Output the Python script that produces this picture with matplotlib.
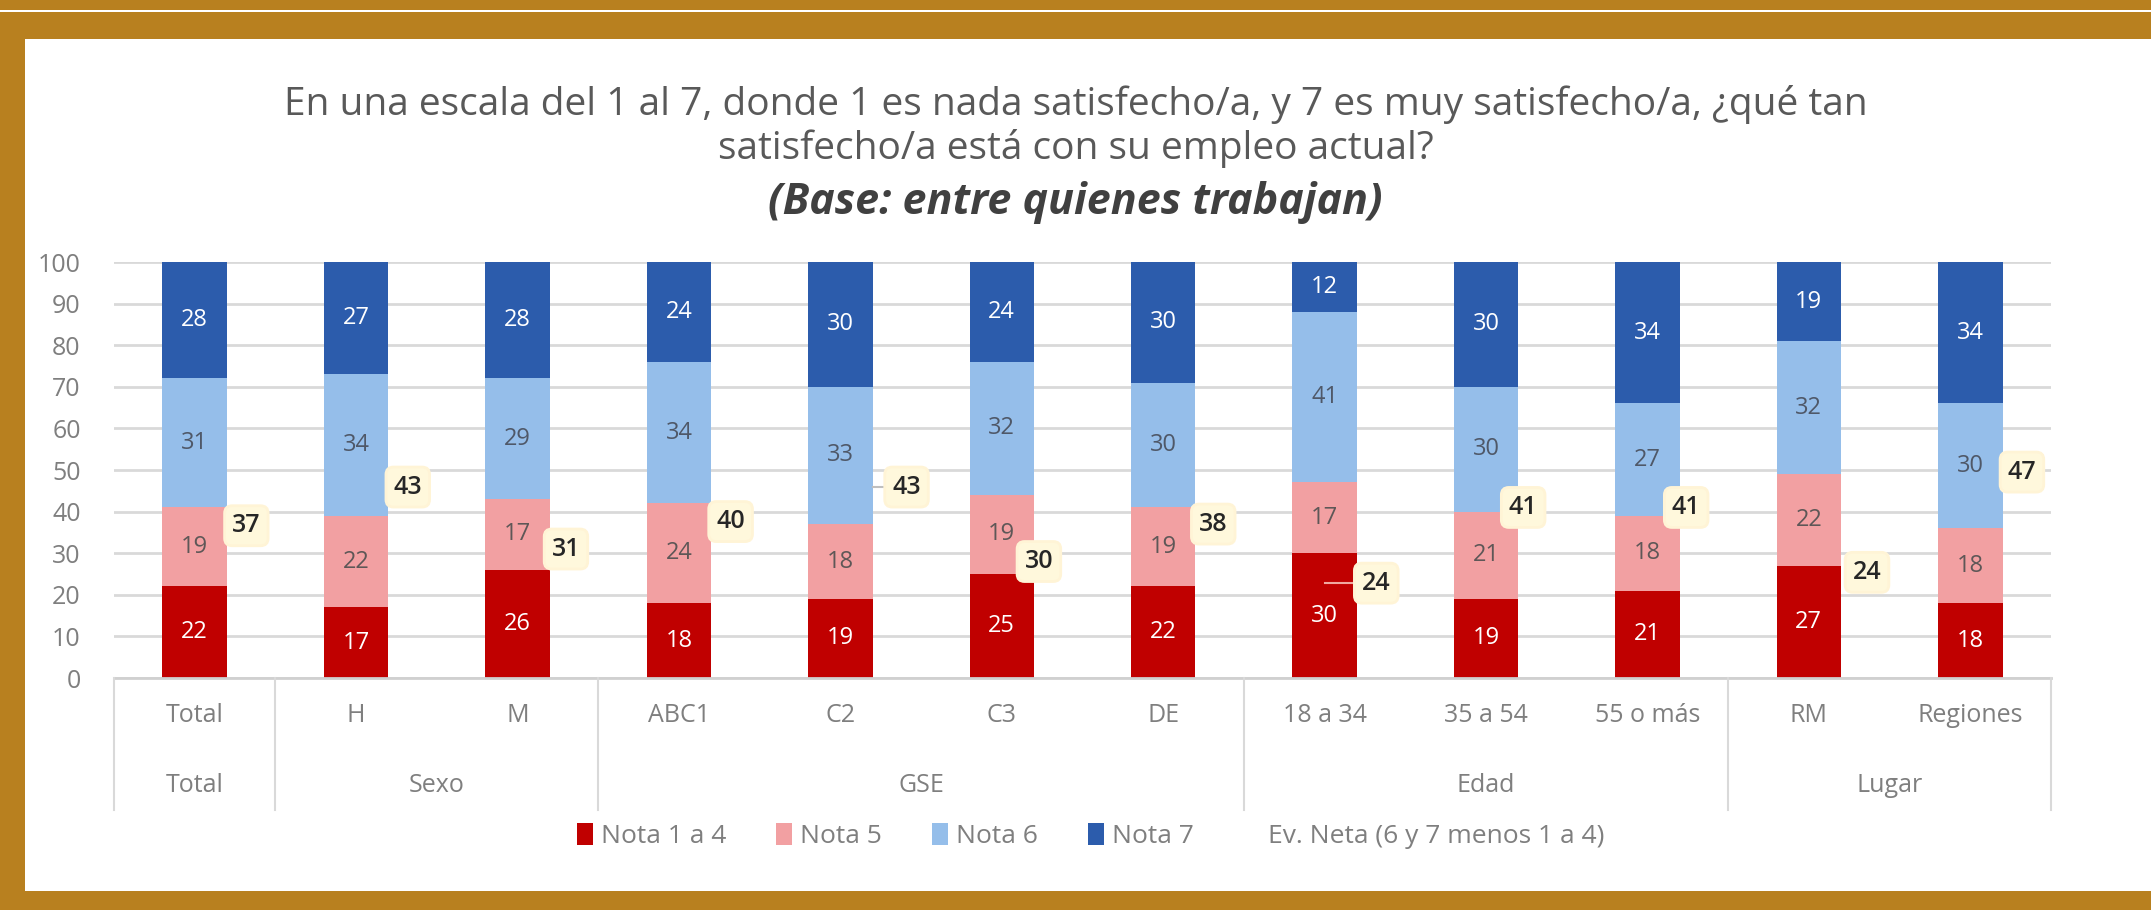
import numpy as np
import matplotlib.pyplot as plt
import matplotlib.transforms as mtransforms
from matplotlib.patches import Rectangle, Patch
from matplotlib.lines import Line2D

plt.rcParams['font.family'] = ['Open Sans', 'DejaVu Sans']

# Datos
categorias = ['Total', 'H', 'M', 'ABC1', 'C2', 'C3', 'DE',
              '18 a 34', '35 a 54', '55 o más', 'RM', 'Regiones']
grupos = ['Total', 'Sexo', 'GSE', 'Edad', 'Lugar']
grupo_tam = [1, 2, 4, 3, 2]

nota_1a4 = [22, 17, 26, 18, 19, 25, 22, 30, 19, 21, 27, 18]
nota_5   = [19, 22, 17, 24, 18, 19, 19, 17, 21, 18, 22, 18]
nota_6   = [31, 34, 29, 34, 33, 32, 30, 41, 30, 27, 32, 30]
nota_7   = [28, 27, 28, 24, 30, 24, 30, 12, 30, 34, 19, 34]
ev_neta  = [37, 43, 31, 40, 43, 30, 38, 24, 41, 41, 24, 47]

# Etiquetas de Ev. Neta, a mano como en el original
neta_dx = [0.32, 0.32, 0.30, 0.32, 0.41, 0.23, 0.31, 0.32, 0.23, 0.24, 0.36, 0.32]
neta_y  = [36.6, 45.9, 31.0, 37.6, 45.9, 28.0, 37.0, 22.8, 41.0, 41.0, 25.4, 49.5]
# lineas guia cortas (indice, desde x relativo)
guias = {4: 0.2, 7: 0.0, 11: 0.2}

series = [nota_1a4, nota_5, nota_6, nota_7]
nombres = ['Nota 1 a 4', 'Nota 5', 'Nota 6', 'Nota 7']
colores = ['#C00000', '#F2A0A2', '#95BEEA', '#2C5CAC']
txtcol = ['white', '#5E5757', '#4F5868', 'white']

W, H = 2151, 910
fig = plt.figure(figsize=(W/100, H/100), dpi=100, facecolor='#B8801F')

# Panel blanco y linea blanca arriba
fig.patches.append(Rectangle((25/W, 1-891/H), 1, (891-39)/H,
                             transform=fig.transFigure, facecolor='white',
                             edgecolor='none', zorder=-10))
fig.patches.append(Rectangle((0, 1-12/H), 1, 2.5/H,
                             transform=fig.transFigure, facecolor='white',
                             edgecolor='none', zorder=-10))

ax = fig.add_axes([114/W, 1-678/H, (2051-114)/W, (678-262)/H])
ax.set_facecolor('none')

x = np.arange(len(categorias))
bottom = np.zeros(len(categorias))
for vals, nom, col, tc in zip(series, nombres, colores, txtcol):
    vals = np.array(vals, dtype=float)
    ax.bar(x, vals, 0.4, bottom=bottom, color=col, label=nom, zorder=2)
    for xi, b, v in zip(x, bottom, vals):
        top = min(b + v, 100)
        ax.text(xi, (b + top)/2, '%d' % v, ha='center', va='center',
                color=tc, fontsize=17, zorder=3)
    bottom += vals

# Ev. Neta (serie sin linea, solo etiquetas)
for i, (xi, v, dx, yy) in enumerate(zip(x, ev_neta, neta_dx, neta_y)):
    if i in guias:
        ax.plot([xi + guias[i], xi + dx - 0.12], [yy, yy],
                color='#F0A8A0' if i == 7 else '#BFBFBF', lw=1.5, zorder=3)
    ax.text(xi + dx, yy, '%d' % v, ha='center', va='center', fontsize=18,
            color='#262626', zorder=4, fontweight='semibold',
            bbox=dict(boxstyle='round,pad=0.3', fc='#FFF8DC', ec='#FFF4D6', lw=2))

ax.set_ylim(0, 100)
ax.set_xlim(-0.5, len(categorias) - 0.5)
ax.set_yticks(np.arange(0, 101, 10))
ax.tick_params(axis='y', length=0, labelsize=18, labelcolor='#7F7F7F', pad=24)
ax.set_xticks([])
ax.yaxis.grid(True, color='#D9D9D9', lw=2, zorder=0)
for s in ['top', 'right', 'left']:
    ax.spines[s].set_visible(False)
ax.spines['bottom'].set_color('#D0D0D0')
ax.spines['bottom'].set_linewidth(2)

# Eje de categorias en dos niveles
tr = mtransforms.blended_transform_factory(ax.transData, fig.transFigure)
y_axis = 1 - 678/H
y_fila1 = 1 - 716/H
y_fila2 = 1 - 786/H
y_fin = 1 - 810/H
for xi, c in zip(x, categorias):
    ax.text(xi, y_fila1, c, transform=tr, ha='center', va='center',
            fontsize=18, color='#7F7F7F')
inicio = 0
bordes = [-0.5]
for g, n in zip(grupos, grupo_tam):
    ax.text(inicio + (n - 1)/2, y_fila2, g, transform=tr, ha='center',
            va='center', fontsize=18, color='#7F7F7F')
    inicio += n
    bordes.append(inicio - 0.5)
for b in bordes:
    fig.add_artist(Line2D([b, b], [y_axis, y_fin], transform=tr,
                          color='#D9D9D9', lw=1.5))

# Titulo
fig.text(0.5, 1-105/H, 'En una escala del 1 al 7, donde 1 es nada satisfecho/a, y 7 es muy satisfecho/a, ¿qué tan',
         ha='center', va='center', fontsize=28, color='#595959')
fig.text(0.5, 1-149/H, 'satisfecho/a está con su empleo actual?',
         ha='center', va='center', fontsize=28, color='#595959')
fig.text(0.5, 1-202/H, '(Base: entre quienes trabajan)',
         ha='center', va='center', fontsize=31, color='#404040',
         fontweight='bold', fontstyle='italic')

# Leyenda
handles = [Patch(facecolor=c, edgecolor='none') for c in colores]
handles.append(Line2D([], [], color='none'))
labels = nombres + ['Ev. Neta (6 y 7 menos 1 a 4)']
fig.legend(handles, labels, loc='center', bbox_to_anchor=(0.507, 1-836/H),
           ncol=5, frameon=False, fontsize=19, labelcolor='#7F7F7F',
           handlelength=0.6, handleheight=0.9, handletextpad=0.3,
           columnspacing=1.9)

fig.savefig('out.png', dpi=100, facecolor=fig.get_facecolor())
